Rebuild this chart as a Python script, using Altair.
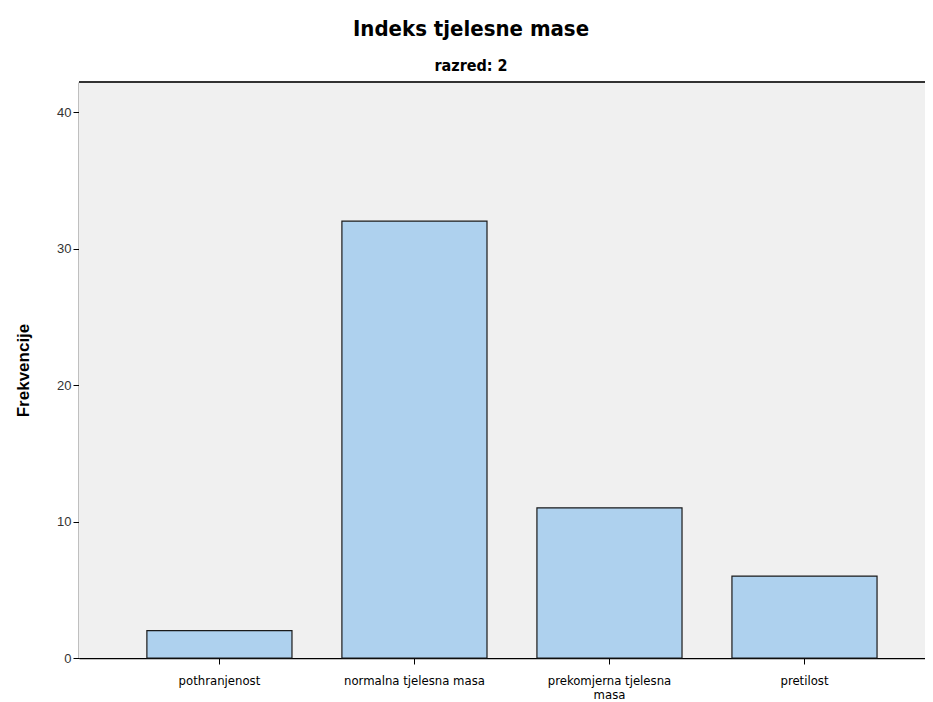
import altair as alt
import pandas as pd

categories = ["pothranjenost", "normalna tjelesna masa", "prekomjerna tjelesna masa", "pretilost"]
counts = [2, 32, 11, 6]

df = pd.DataFrame({"kategorija": categories, "frekvencija": counts})

W, H = 846, 576
NARROW = "'Liberation Sans Narrow', 'Arial Narrow', 'DejaVu Sans Condensed', 'Liberation Sans', sans-serif"
SANS = "'Liberation Sans', Arial, sans-serif"

bg = alt.Chart(df).mark_rect(fill="#F0F0F0").encode(
    x=alt.value(0), x2=alt.value(W), y=alt.value(0), y2=alt.value(H)
)

bars = alt.Chart(df).mark_bar(
    fill="#AED1EE", stroke="#1a1a1a", strokeWidth=1.2
).encode(
    x=alt.X("kategorija:N", sort=categories, title=None,
            scale=alt.Scale(paddingInner=0.256, paddingOuter=0.297, align=0.586),
            axis=alt.Axis(labelAngle=0, labelFont=NARROW, labelFontSize=13,
                          labelColor="#000000", tickColor="#000000", tickSize=6,
                          domainColor="#000000", domainWidth=1.5, labelPadding=10,
                          labelExpr="datum.label == 'prekomjerna tjelesna masa' ? ['prekomjerna tjelesna', 'masa'] : datum.label",
                          labelLineHeight=14.5)),
    y=alt.Y("frekvencija:Q", title="Frekvencije",
            scale=alt.Scale(domain=[0, 42.2], nice=False),
            axis=alt.Axis(values=[0, 10, 20, 30, 40], grid=False, labelFont=SANS,
                          labelFontSize=13, labelColor="#333333", tickColor="#000000", tickSize=6,
                          domainColor="#000000", domainWidth=1.5, titleFont=SANS,
                          titleFontSize=17, titleFontWeight="bold", titleColor="#000000",
                          titlePadding=24, labelPadding=2)),
)

top = alt.Chart(df).mark_rule(color="#333333", strokeWidth=2).encode(
    x=alt.value(0), x2=alt.value(W), y=alt.value(0)
)

chart = alt.layer(bg, bars, top).properties(
    width=W, height=H,
    title=alt.TitleParams(
        "Indeks tjelesne mase",
        subtitle="razred: 2",
        font=NARROW, fontSize=22, fontWeight="bold", color="#000000",
        subtitleFont=NARROW, subtitleFontSize=16, subtitleFontWeight="bold",
        subtitleColor="#000000", subtitlePadding=17, dx=-31, anchor="middle", offset=6,
    ),
    autosize=alt.AutoSizeParams(type="none"),
    padding={"left": 71, "top": 74, "right": 0, "bottom": 44},
).configure_view(
    strokeWidth=0
).configure(background="#FFFFFF")

chart.save("out.html", embed_options={"renderer": "svg", "actions": False})
